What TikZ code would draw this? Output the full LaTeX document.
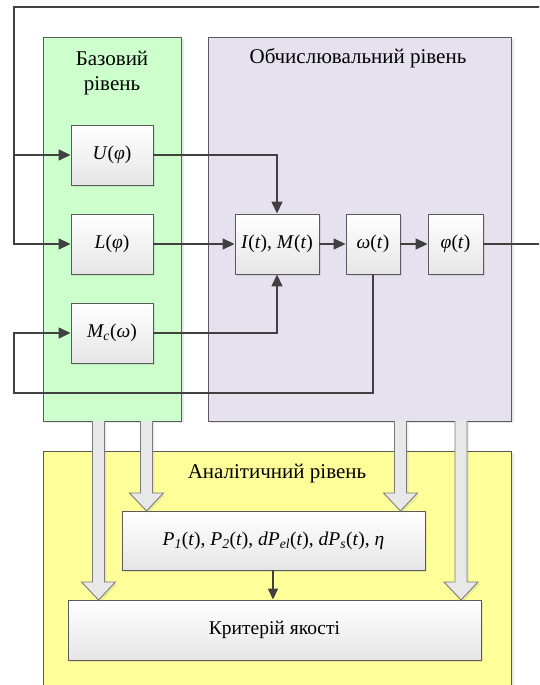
\documentclass[tikz,border=0pt]{standalone}
\usepackage{fontspec}
\setmainfont{Liberation Serif}
\usetikzlibrary{arrows.meta,shadows,calc}
\definecolor{lineC}{HTML}{404040}
\definecolor{borderC}{HTML}{5A5A5A}
\definecolor{greenC}{HTML}{CCFFCC}
\definecolor{purpleC}{HTML}{E5E1EE}
\definecolor{yellowC}{HTML}{FFFF99}
\definecolor{fatC}{HTML}{E8E8E8}
\definecolor{fatB}{HTML}{7A7A7A}
\newcommand\fatarrow[3]{%
  \path[fill=fatC,draw=fatB,line width=0.9pt,drop shadow={shadow xshift=2pt,shadow yshift=-2pt,opacity=0.15}]
    (#1-6,#2) -- (#1-6,#3-18) -- (#1-17,#3-18) -- (#1,#3) -- (#1+17,#3-18) -- (#1+6,#3-18) -- (#1+6,#2);}
\begin{document}
\begin{tikzpicture}[x=1pt,y=-1pt,
  txt/.style={font=\fontsize{19.5}{23}\selectfont},
  ttl/.style={font=\fontsize{21}{25}\selectfont},
  container/.style={draw=borderC,line width=0.9pt,inner sep=0pt,
    drop shadow={shadow xshift=3pt,shadow yshift=-2pt,opacity=0.18}},
  blk/.style={draw=borderC,line width=0.9pt,top color=white,bottom color=black!10,
    inner sep=0pt,txt,drop shadow={shadow xshift=2pt,shadow yshift=-2pt,opacity=0.18}},
  conn/.style={draw=lineC,line width=1.5pt},
  arr/.style={conn,-{Triangle[length=12pt,width=11pt]}}
]
\useasboundingbox (0,0) rectangle (539,685);
\clip (0,0) rectangle (539,685);

% containers
\node[container,fill=greenC,minimum width=138,minimum height=384] (base) at (112,229) {};
\node[container,fill=purpleC,minimum width=303,minimum height=384] (comp) at (359.5,229) {};
\node[container,fill=yellowC,minimum width=468,minimum height=250] (anal) at (277,576) {};

\node[ttl,align=center] (tbase) at (112,73) {Базовий\\рівень};
\node[ttl] (tcomp) at (358,58) {Обчислювальний рівень};
\node[ttl] (tanal) at (277,474) {Аналітичний рівень};

% blocks
\node[blk,minimum width=82,minimum height=60] (U) at (112,155) {\textit{U}(\textit{φ})};
\node[blk,minimum width=82,minimum height=60] (L) at (112,244) {\textit{L}(\textit{φ})};
\node[blk,minimum width=82,minimum height=60] (Mc) at (112,333) {\textit{M\textsubscript{c}}(\textit{ω})};
\node[blk,minimum width=84,minimum height=60] (I) at (277,244) {\textit{I}(\textit{t}), \textit{M}(\textit{t})};
\node[blk,minimum width=54,minimum height=60] (om) at (373,244) {\textit{ω}(\textit{t})};
\node[blk,minimum width=55,minimum height=60] (ph) at (455.5,244) {\textit{φ}(\textit{t})};
\node[blk,minimum width=303,minimum height=59] (P) at (273.5,540.5)
  {\textit{P\textsubscript{1}}(\textit{t}), \textit{P\textsubscript{2}}(\textit{t}), \textit{dP\textsubscript{el}}(\textit{t}), \textit{dP\textsubscript{s}}(\textit{t}), \textit{η}};
\node[blk,minimum width=413,minimum height=60] (K) at (274.5,630) {Критерій якості};

% connectors
\coordinate (tr) at (545,7);
\coordinate (tl) at (14,7);
\coordinate (fb) at (14,393);
\draw[arr] (ph.east) -| (tr) -- (tl) |- (L.west);
\draw[arr] (tl |- U.west) -- (U.west);
\draw[arr] (U.east) -| (I.north);
\draw[arr] (L.east) -- (I.west);
\draw[arr] (Mc.east) -| (I.south);
\draw[arr] (I.east) -- (om.west);
\draw[arr] (om.east) -- (ph.west);
\draw[arr] (om.south) |- (fb) |- (Mc.west);
\draw[conn,-{Triangle[length=11pt,width=10pt]}] (P.south -| 273,0) -- (K.north -| 273,0);

% fat arrows
\fatarrow{98.5}{421}{600}
\fatarrow{146.5}{421}{511}
\fatarrow{400.5}{421}{511}
\fatarrow{461}{421}{600}
\end{tikzpicture}
\end{document}
